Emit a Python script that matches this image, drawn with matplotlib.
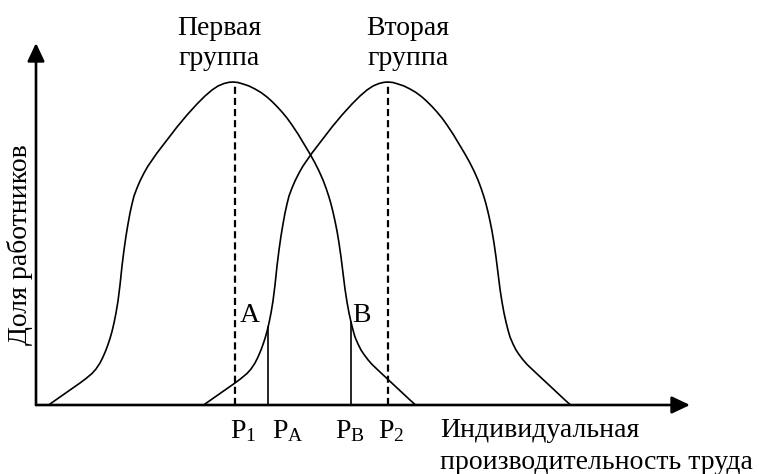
import matplotlib
matplotlib.use("Agg")
import matplotlib.pyplot as plt

plt.rcParams['font.family'] = ['Liberation Serif', 'DejaVu Serif']
plt.rcParams['mathtext.fontset'] = 'custom'
plt.rcParams['mathtext.rm'] = 'Liberation Serif'
plt.rcParams['mathtext.it'] = 'Liberation Serif:italic'

# ---- data (productivity units along x, share of workers along y) ----
group1_x = [50, 60, 70, 80, 86, 92, 96, 100, 103, 106, 108, 110, 112, 114, 116, 118, 120,
            122, 124, 126, 128, 130, 132, 134, 137, 140, 144, 148, 157, 167, 177, 187,
            197, 205, 212, 218, 224, 229, 233,
            238, 243, 249, 255, 261, 267, 272, 277, 282, 287, 292, 298, 304, 310, 315,
            319, 323, 326, 329, 331, 333, 335, 337, 339, 341, 343, 345, 347, 349, 351,
            353, 355, 358, 361, 364, 368, 372, 376, 380, 386, 392, 398, 404, 410, 415]
group1_y = [1, 8, 15, 22, 26.5, 31.5, 36, 42, 48, 55, 60.5, 66.5, 73.5, 82, 92, 104, 120,
            139, 155, 169, 181, 192, 201, 209, 217, 224, 232, 239, 252, 265, 278, 290,
            301, 309, 315, 319, 321.5, 322.7, 323,
            322.5, 321, 319, 316, 312.5, 308, 303.5, 298.5, 293, 287, 280, 271, 261, 251, 242,
            234, 225, 217, 208, 201, 193, 184, 174, 162, 148, 132, 116, 103, 92, 83,
            75, 68, 61, 55, 50.5, 45.2, 40.6, 36.8, 33, 27.4, 21.8, 16.2, 10.6, 5, 0.5]

group2_x = [205, 215, 225, 235, 241, 247, 251, 255, 258, 261, 263, 265, 267, 269, 271, 273, 275,
            277, 279, 281, 283, 285, 287, 289, 292, 295, 299, 303, 312, 322, 332, 342,
            352, 360, 367, 373, 379, 384, 388,
            393, 398, 404, 410, 416, 422, 427, 432, 437, 442, 447, 453, 459, 465, 470,
            474, 478, 481, 484, 486, 488, 490, 492, 494, 496, 498, 500, 502, 504, 506,
            508, 510, 513, 516, 519, 523, 527, 531, 535, 541, 547, 553, 559, 565, 570]
group2_y = [1, 8, 15, 22, 26.5, 31.5, 36, 42, 48, 55, 60.5, 66.5, 73.5, 82, 92, 104, 120,
            139, 155, 169, 181, 192, 201, 209, 217, 224, 232, 239, 252, 265, 278, 290,
            301, 309, 315, 319, 321.5, 322.7, 323,
            322.5, 321, 319, 316, 312.5, 308, 303.5, 298.5, 293, 287, 280, 271, 261, 251, 242,
            234, 225, 217, 208, 201, 193, 184, 174, 162, 148, 132, 116, 103, 92, 83,
            75, 68, 61, 55, 50.5, 45.2, 40.6, 36.8, 33, 27.4, 21.8, 16.2, 10.6, 5, 0.5]

peak_positions = [235, 388]          # P1, P2
peak_height = 323
cut_positions = [268, 351]           # PA, PB
cut_heights = [78, 83]

tick_labels = [r'P$_1$', r'P$_\mathrm{A}$', r'P$_\mathrm{B}$', r'P$_2$']
tick_label_x = [230, 272, 335, 378]
group_title_lines = [['Первая', 'группа'], ['Вторая', 'группа']]
group_title_x = [219, 408]
point_labels = ['A', 'B']
point_label_x = [240, 352]
x_title_lines = ['Индивидуальная', 'производительность труда']
y_title = 'Доля работников'

x_axis_end = 690
y_axis_end = 362
origin_x = 36

# ---- figure ----
fig = plt.figure(figsize=(7.59, 4.74), dpi=100)
ax = fig.add_axes([0, 0, 1, 1])
ax.set_xlim(0, 759)
ax.set_ylim(405 - 474, 405)
ax.axis('off')

def py(v):
    """pixel row from top -> data y"""
    return 405 - v

# axes with arrows
arrow_style = '-|>,head_length=0.55,head_width=0.26'
ax.annotate('', xy=(x_axis_end, 0), xytext=(origin_x, 0),
            arrowprops=dict(arrowstyle=arrow_style, lw=1.9, color='black',
                            shrinkA=0, shrinkB=0, mutation_scale=20))
ax.annotate('', xy=(origin_x, y_axis_end), xytext=(origin_x, 0),
            arrowprops=dict(arrowstyle=arrow_style, lw=1.9, color='black',
                            shrinkA=0, shrinkB=0, mutation_scale=20))

# distributions
ax.plot(group1_x, group1_y, color='black', lw=1.2, solid_joinstyle='round')
ax.plot(group2_x, group2_y, color='black', lw=1.2, solid_joinstyle='round')

# dashed means
for px in peak_positions:
    ax.plot([px, px], [0, peak_height], color='black', lw=1.6, dashes=(3.2, 1.8))

# solid cuts
for px, h in zip(cut_positions, cut_heights):
    ax.plot([px, px], [0, h], color='black', lw=1.2)

fs = 20
for lab, lx in zip(tick_labels, tick_label_x):
    ax.text(lx, py(438), lab, fontsize=fs, ha='left', va='baseline')

for lines, tx in zip(group_title_lines, group_title_x):
    ax.text(tx, py(35), lines[0], fontsize=fs, ha='center', va='baseline')
    ax.text(tx, py(65), lines[1], fontsize=fs, ha='center', va='baseline')

for lab, lx in zip(point_labels, point_label_x):
    ax.text(lx, py(322), lab, fontsize=fs, ha='left', va='baseline')

ax.text(440, py(437), x_title_lines[0], fontsize=fs, ha='left', va='baseline')
ax.text(440, py(469), x_title_lines[1], fontsize=fs, ha='left', va='baseline')
ax.text(20, py(245), y_title, fontsize=fs, rotation=90,
        ha='center', va='center')

fig.savefig('out.png', dpi=100)
